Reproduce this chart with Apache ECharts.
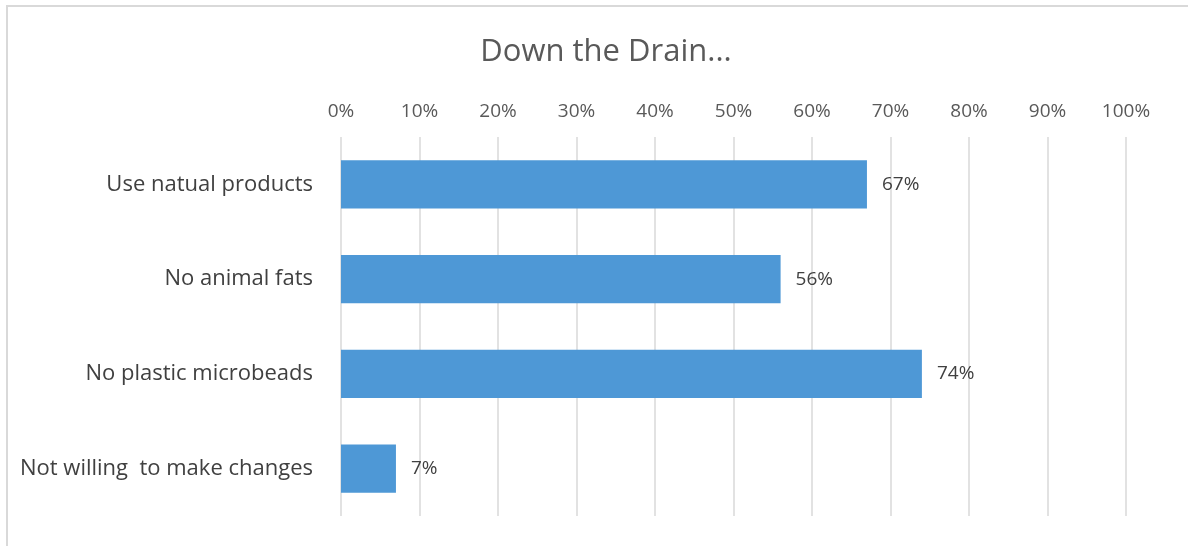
<!DOCTYPE html>
<html>
<head>
<meta charset="utf-8">
<script src="https://cdn.jsdelivr.net/npm/echarts@6/dist/echarts.min.js"></script>
<style>html,body{margin:0;padding:0;background:#fff;}#c{width:1188px;height:546px;}</style>
</head>
<body>
<div id="c"></div>
<script>
const categories = ["Use natual products", "No animal fats", "No plastic microbeads", "Not willing  to make changes"];
const values = [67, 56, 74, 7];
const tickMax = 100;
const tickInterval = 10;

const chart = echarts.init(document.getElementById('c'));
chart.setOption({
  backgroundColor: '#fff',
  animation: false,
  title: {
    text: 'Down the Drain...',
    left: 601,
    textAlign: 'center',
    top: 32,
    textStyle: { fontFamily: 'Open Sans', fontSize: 31, fontWeight: 'normal', color: '#595959' }
  },
  graphic: [{
    type: 'rect', shape: { x: 7, y: 6, width: 1300, height: 700 },
    style: { fill: 'none', stroke: '#d9d9d9', lineWidth: 2 }, silent: true, z: -1
  }],
  grid: { left: 341, right: 62, top: 137, bottom: 30, containLabel: false },
  xAxis: {
    type: 'value', position: 'top', min: 0, max: tickMax, interval: tickInterval,
    axisLine: { show: false }, axisTick: { show: false },
    axisLabel: { formatter: '{value}%', color: '#595959', fontFamily: 'Open Sans', fontSize: 19, margin: 16 },
    splitLine: { lineStyle: { color: '#d9d9d9', width: 1.5 } }
  },
  yAxis: {
    type: 'category', data: categories, inverse: true,
    axisLine: { show: false }, axisTick: { show: false },
    axisLabel: { color: '#404040', fontFamily: 'Open Sans', fontSize: 22, margin: 28 }
  },
  series: [{
    type: 'bar', data: values, barWidth: '51%',
    itemStyle: { color: '#4e98d6' },
    label: { show: true, position: 'right', distance: 15, formatter: '{c}%', color: '#404040', fontFamily: 'Open Sans', fontSize: 19 }
  }]
});
</script>
</body>
</html>
